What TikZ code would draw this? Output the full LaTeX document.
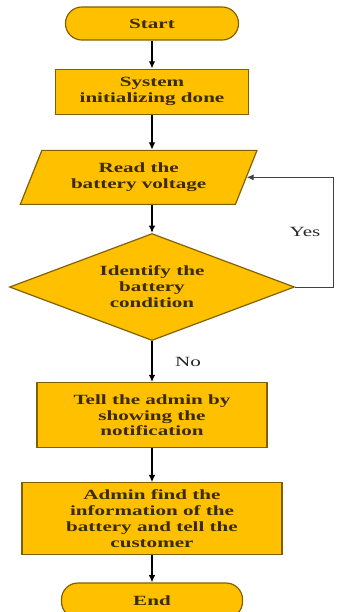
\documentclass[tikz,border=0pt]{standalone}
\usepackage{fontspec}
\setmainfont{Liberation Serif}[FakeStretch=1.5]
\usetikzlibrary{arrows.meta,positioning,shapes.geometric}
\definecolor{boxfill}{HTML}{FFC000}
\definecolor{boxline}{HTML}{7F6000}
\definecolor{boxtext}{HTML}{3B2B00}

\begin{document}
\begin{tikzpicture}[
    base/.style={draw=boxline, fill=boxfill, line width=1pt, text=boxtext,
      font=\fontsize{12}{13.6}\selectfont\bfseries, align=center, inner sep=2pt},
    terminal/.style={base, rounded corners=4.9mm,
      minimum width=51.9mm, minimum height=9.9mm},
    box/.style={base},
    io/.style={base, trapezium, trapezium left angle=65, trapezium right angle=115,
      trapezium stretches, minimum width=71.1mm, minimum height=16.2mm},
    decision/.style={base, diamond, aspect=2.66, inner sep=0pt,
      minimum width=85.5mm, minimum height=32.1mm},
    arrow/.style={-{Latex[length=2.2mm, width=2mm]}, line width=1.4pt},
    loopline/.style={-{Latex[length=2mm, width=1.8mm]}, draw=black!75, line width=0.8pt},
    lbl/.style={font=\fontsize{12}{13.6}\selectfont, text=black!85}
  ]
  \useasboundingbox (-4.56,0.705) rectangle (5.61,-17.655);

  \node[terminal] (start) at (0,0) {Start};

  \node[box, below=8.4mm of start, minimum width=57.9mm, minimum height=13.5mm] (init)
    {System\\initializing done};

  \node[io, below=10.5mm of init, xshift=-4mm] (read)
    {Read the\\battery voltage};

  \node[decision, below=8.4mm of read, xshift=4mm] (cond)
    {Identify the\\battery\\condition};

  \node[box, below=12.3mm of cond, minimum width=69mm, minimum height=19.5mm] (tell)
    {Tell the admin by\\showing the\\notification};

  \node[box, below=10.2mm of tell, minimum width=78mm, minimum height=21.6mm] (admin)
    {Admin find the\\information of the\\battery and tell the\\customer};

  \node[terminal, below=8.1mm of admin, minimum width=54.3mm, minimum height=10.5mm] (end)
    {End};

  \coordinate (back) at ([xshift=11.4mm]cond.east);

  \draw[arrow] (start) -- (init);
  \draw[arrow] (init.south) -- (init.south |- read.north);
  \draw[arrow] (read.south -| cond.north) -- (cond);
  \draw[arrow] (cond) -- node[lbl, right=5.5mm]{No} (tell);
  \draw[arrow] (tell) -- (admin);
  \draw[arrow] (admin) -- (end);
  \draw[loopline] (cond.east) -- (back) |- node[lbl, pos=0.25, left=2.5mm]{Yes} (read.east);
  \end{tikzpicture}
\end{document}
